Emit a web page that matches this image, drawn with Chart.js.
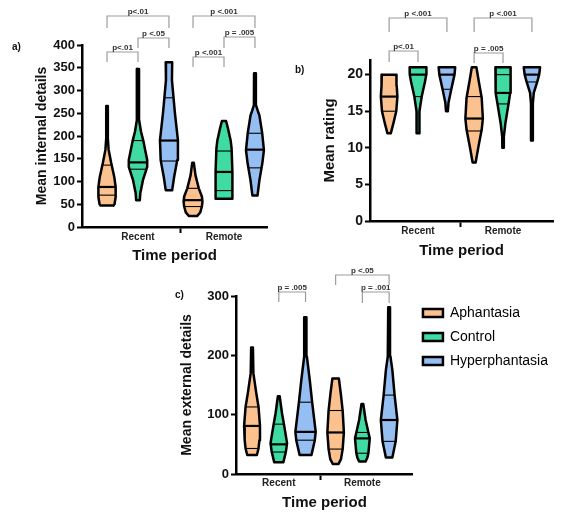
<!DOCTYPE html>
<html>
<head>
<meta charset="utf-8">
<script src="https://cdn.jsdelivr.net/npm/chart.js@4.4.1/dist/chart.umd.min.js"></script>
<style>
  html, body { margin: 0; padding: 0; background: #fff; }
  body { width: 583px; height: 522px; position: relative; overflow: hidden; }
  canvas { position: absolute; }
</style>
</head>
<body>
<canvas id="ca" width="290" height="265" style="left:0px;top:0px;width:290px;height:265px"></canvas>
<canvas id="cb" width="293" height="265" style="left:290px;top:0px;width:293px;height:265px"></canvas>
<canvas id="cc" width="413" height="264" style="left:170px;top:258px;width:413px;height:264px"></canvas>
<script>
// ---------------- DATA ----------------
const categories = ['Recent', 'Remote'];
const groups = ['Aphantasia', 'Control', 'Hyperphantasia'];

// tick labels
const internalTicks = [0, 50, 100, 150, 200, 250, 300, 350, 400];
const ratingTicks = [0, 5, 10, 15, 20];
const externalTicks = [0, 100, 200, 300];

// violin outlines: [value, half-width of the density] from bottom to top
// a) Mean internal details
const internalAphRecent = [[47,5.5],[50,6.5],[66,7.5],[88,7.5],[110,6.3],[141,3.6],[170,1.4],[195,0.7],[266,0.7]];
const internalCtlRecent = [[59,1.6],[74,2.0],[103,4.3],[132,8.0],[147,8.0],[191,4.5],[210,2.6],[235,1.0],[347,0.9]];
const internalHypRecent = [[81,2.8],[110,4.5],[147,7.2],[191,7.8],[250,5.2],[283,4.0],[323,2.6],[362,2.8]];
const internalAphRemote = [[24,3.5],[32,6.3],[45,7.7],[56,8.2],[67,7.7],[85,5.0],[114,2.1],[141,0.7]];
const internalCtlRemote = [[62,7.3],[122,7.3],[173,6.6],[190,5.8],[215,3.6],[233,1.8]];
const internalHypRemote = [[69,2.2],[103,3.9],[140,6.4],[169,7.8],[206,6.3],[246,3.8],[255,2.5],[268,0.9],[338,0.8]];
const internalMedian = [88, 142, 190, 59, 121, 170];
const internalQ1 = [70, 127, 145, 45, 80, 130];
const internalQ3 = [136, 190, 284, 85, 167, 206];

// b) Mean rating
const ratingAphRecent = [[12,1.5],[13.4,3.8],[15,6.2],[17,7.2],[18.5,6.6],[20,6.4]];
const ratingCtlRecent = [[12,1.3],[14,1.2],[15,1.3],[17,3.2],[19,6.0],[20,7.2],[21,7.3]];
const ratingHypRecent = [[15,0.8],[16.2,1.4],[18,3.8],[20,6.6],[21,7.2]];
const ratingAphRemote = [[8,1.3],[10.2,3.8],[12.5,6.6],[14,7.6],[16.8,6.6],[19.3,3.8],[21,2.0]];
const ratingCtlRemote = [[10,0.6],[11.5,0.7],[13.4,2.1],[16,4.8],[17.5,6.2],[20,6.6],[21,6.6]];
const ratingHypRemote = [[11,0.8],[16,0.8],[17.5,1.6],[19,4.6],[20,6.3],[21,7.1]];
const ratingMedian = [17, 20, 20, 14, 17.5, 20];
const ratingQ1 = [15, 17, 18, 12.3, 16, 19];
const ratingQ3 = [20, 21, 21, 17, 20, 21];

// c) Mean external details
const externalAphRecent = [[32,4.3],[43,5.8],[57,6.6],[81,7.1],[113,5.8],[136,3.8],[170,1.2],[213,0.8]];
const externalCtlRecent = [[20,4.1],[37,6.3],[52,7.4],[84,4.6],[102,2.9],[131,0.8]];
const externalHypRecent = [[32,5.3],[57,8.3],[71,9.1],[121,5.9],[158,3.8],[198,1.2],[264,0.8]];
const externalAphRemote = [[17,2.6],[25,4.8],[42,6.3],[70,7.4],[107,6.3],[136,4.6],[161,2.9]];
const externalCtlRemote = [[21,2.9],[28,4.5],[35,5.4],[60,6.6],[70,5.4],[91,2.9],[118,0.8]];
const externalHypRemote = [[28,2.9],[55,5.9],[91,7.4],[133,4.9],[175,2.9],[198,1.2],[281,0.8]];
const externalMedian = [81, 50, 71, 70, 60, 91];
const externalQ1 = [43, 37, 57, 42, 35, 55];
const externalQ3 = [113, 84, 121, 107, 70, 133];

// significance brackets (category 1/2, compared groups, label)
const internalBrackets = [
  {cat:1, from:0, to:2, text:'p<.01'}, {cat:1, from:1, to:2, text:'p <.05'}, {cat:1, from:0, to:1, text:'p<.01'},
  {cat:2, from:0, to:2, text:'p <.001'}, {cat:2, from:1, to:2, text:'p = .005'}, {cat:2, from:0, to:1, text:'p <.001'}
];
const ratingBrackets = [
  {cat:1, from:0, to:2, text:'p <.001'}, {cat:1, from:0, to:1, text:'p<.01'},
  {cat:2, from:0, to:2, text:'p <.001'}, {cat:2, from:0, to:1, text:'p = .005'}
];
const externalBrackets = [
  {cat:1, from:1, to:2, text:'p = .005'}, {cat:2, from:0, to:2, text:'p <.05'}, {cat:2, from:1, to:2, text:'p = .001'}
];

// ---------------- STYLE / LAYOUT ----------------
const groupColors = ['#FBC28F', '#3FDBA2', '#95BEF2'];
const FONT = 'Liberation Sans, Arial, sans-serif';
const WIDTH_SCALE = 1.15;

function hwAt(profile, v) {
  if (v <= profile[0][0]) return profile[0][1];
  for (let i = 1; i < profile.length; i++) {
    const a = profile[i-1], b = profile[i];
    if (v <= b[0]) return a[1] + (b[1]-a[1]) * (v - a[0]) / (b[0] - a[0]);
  }
  return profile[profile.length-1][1];
}

function buildDatasets(violins, med, q1, q3, unitPx, offsets) {
  const ds = [];
  const k2u = WIDTH_SCALE / unitPx;
  violins.forEach((prof, k) => {
    const cat = Math.floor(k / 3) + 1, g = k % 3;
    const cx = cat + offsets[g];
    const right = prof.map(p => ({x: cx + p[1] * k2u, y: p[0]}));
    const left = prof.slice().reverse().map(p => ({x: cx - p[1] * k2u, y: p[0]}));
    const pts = right.concat(left);
    pts.push(pts[0]);
    ds.push({data: pts, fill: 'shape', backgroundColor: groupColors[g], borderColor: '#000',
      borderWidth: 2.5, pointRadius: 0, tension: 0, order: 2, borderJoinStyle: 'round', borderCapStyle: 'round'});
    [[q1[k], 1.1], [q3[k], 1.1], [med[k], 2.2]].forEach(([v, lw]) => {
      const w = hwAt(prof, v) * k2u;
      ds.push({data: [{x: cx - w, y: v}, {x: cx + w, y: v}], borderColor: '#000', borderWidth: lw,
        pointRadius: 0, fill: false, order: 1});
    });
  });
  return ds;
}

const bracketPlugin = {
  id: 'brackets',
  afterDraw(chart, args, opts) {
    const {ctx, chartArea} = chart;
    const xs = chart.scales.x;
    ctx.save();
    opts.items.forEach((b, i) => {
      const lay = opts.layout[i];
      const x1 = xs.getPixelForValue(b.cat + opts.offsets[b.from]);
      const x2 = xs.getPixelForValue(b.cat + opts.offsets[b.to]);
      const y = chartArea.top - lay.rise;
      ctx.strokeStyle = '#9c9c9c';
      ctx.lineWidth = 1.2;
      ctx.beginPath();
      ctx.moveTo(x1, y + lay.drop); ctx.lineTo(x1, y); ctx.lineTo(x2, y); ctx.lineTo(x2, y + lay.drop);
      ctx.stroke();
      ctx.fillStyle = '#333';
      ctx.font = 'bold 8px ' + FONT;
      ctx.textAlign = 'center';
      ctx.textBaseline = 'alphabetic';
      ctx.fillText(b.text, (x1 + x2) / 2, y - 2.5);
    });
    ctx.fillStyle = '#111';
    ctx.font = 'bold 10px ' + FONT;
    ctx.textAlign = 'left';
    ctx.textBaseline = 'middle';
    ctx.fillText(opts.tag, opts.tagX, opts.tagY);
    ctx.restore();
  }
};

function makeChart(id, p) {
  return new Chart(document.getElementById(id), {
    type: 'line',
    data: {datasets: buildDatasets(p.violins, p.med, p.q1, p.q3, p.unitPx, p.offsets)},
    plugins: [bracketPlugin],
    options: {
      responsive: false, animation: false, devicePixelRatio: 1, events: [],
      layout: {padding: p.padding},
      plugins: {
        legend: p.legend || {display: false},
        tooltip: {enabled: false},
        brackets: {items: p.brackets, layout: p.bracketLayout, offsets: p.offsets, tag: p.tag, tagX: p.tagX, tagY: p.tagY}
      },
      scales: {
        x: {
          type: 'linear', min: p.xmin, max: p.xmax,
          afterBuildTicks: s => { s.ticks = [{value: 1}, {value: 1.5}, {value: 2}]; },
          afterFit: s => { s.height = p.xh; },
          ticks: {
            autoSkip: false, maxRotation: 0, padding: p.xtickPad, color: '#222',
            font: {family: FONT, size: 10, weight: 'bold'},
            callback: v => v === 1 ? categories[0] : (v === 2 ? categories[1] : '')
          },
          grid: {drawOnChartArea: false, drawTicks: true, tickLength: 6, tickWidth: 2,
            tickColor: c => (c.tick && c.tick.value === 1.5) ? '#000' : 'rgba(0,0,0,0)'},
          border: {color: '#000', width: 2.5},
          title: {display: true, text: 'Time period', color: '#111',
            font: {family: FONT, size: 15, weight: 'bold'}, padding: {top: 0, bottom: p.xtitlePad}}
        },
        y: {
          type: 'linear', min: 0, max: p.ymax,
          afterBuildTicks: s => { s.ticks = p.yticks.map(v => ({value: v})); },
          afterFit: s => { s.width = p.yw; },
          ticks: {color: '#111', padding: 2, font: {family: FONT, size: p.ytickSize, weight: 'bold'}},
          grid: {drawOnChartArea: false, drawTicks: true, tickLength: 5, tickWidth: 2, tickColor: '#000'},
          border: {color: '#000', width: 2.5},
          title: {display: true, text: p.ytitle, color: '#111',
            font: {family: FONT, size: p.ytitleSize, weight: 'bold'}, padding: {top: p.ytitlePad, bottom: 0}}
        }
      }
    }
  });
}

makeChart('ca', {
  violins: [internalAphRecent, internalCtlRecent, internalHypRecent, internalAphRemote, internalCtlRemote, internalHypRemote],
  med: internalMedian, q1: internalQ1, q3: internalQ3,
  unitPx: 86, offsets: [-0.36, 0, 0.36],
  padding: {top: 45, right: 23, bottom: 0, left: 0},
  xmin: 0.349, xmax: 2.5, xh: 38, xtickPad: -2, xtitlePad: 0,
  ymax: 400, yticks: internalTicks, yw: 82, ytickSize: 13,
  ytitle: 'Mean internal details', ytitleSize: 14, ytitlePad: 33.6,
  brackets: internalBrackets,
  bracketLayout: [{rise:29, drop:12}, {rise:7, drop:10}, {rise:-7, drop:10}, {rise:29, drop:12}, {rise:8, drop:11}, {rise:-12, drop:10}],
  tag: 'a)', tagX: 12, tagY: 47
});

makeChart('cb', {
  violins: [ratingAphRecent, ratingCtlRecent, ratingHypRecent, ratingAphRemote, ratingCtlRemote, ratingHypRemote],
  med: ratingMedian, q1: ratingQ1, q3: ratingQ3,
  unitPx: 85, offsets: [-0.34, 0, 0.34],
  padding: {top: 60, right: 30, bottom: 0, left: 0},
  xmin: 0.435, xmax: 2.588, xh: 44, xtickPad: -2, xtitlePad: 5,
  ymax: 22, yticks: ratingTicks, yw: 80, ytickSize: 14,
  ytitle: 'Mean rating', ytitleSize: 15, ytitlePad: 31,
  brackets: ratingBrackets,
  bracketLayout: [{rise:42, drop:14}, {rise:9, drop:11}, {rise:42, drop:14}, {rise:7, drop:10}],
  tag: 'b)', tagX: 5, tagY: 70
});

makeChart('cc', {
  violins: [externalAphRecent, externalCtlRecent, externalHypRecent, externalAphRemote, externalCtlRemote, externalHypRemote],
  med: externalMedian, q1: externalQ1, q3: externalQ3,
  unitPx: 86, offsets: [-0.32, 0, 0.32],
  padding: {top: 38, right: 25, bottom: 0, left: 0},
  xmin: 0.488, xmax: 2.605, xh: 48, xtickPad: -3, xtitlePad: 10,
  ymax: 300, yticks: externalTicks, yw: 66, ytickSize: 13,
  ytitle: 'Mean external details', ytitleSize: 14, ytitlePad: 8.6,
  brackets: externalBrackets,
  bracketLayout: [{rise:4, drop:10}, {rise:21, drop:10}, {rise:4, drop:11}],
  tag: 'c)', tagX: 5, tagY: 37,
  legend: {
    display: true, position: 'right', align: 'start', maxWidth: 220,
    labels: {
      boxWidth: 20, boxHeight: 8, padding: 10, color: '#222',
      font: {family: FONT, size: 14},
      generateLabels: () => groups.map((g, i) => ({
        text: g, fillStyle: groupColors[i], strokeStyle: '#000', lineWidth: 2.5, hidden: false, datasetIndex: i
      }))
    }
  }
});
</script>
</body>
</html>
